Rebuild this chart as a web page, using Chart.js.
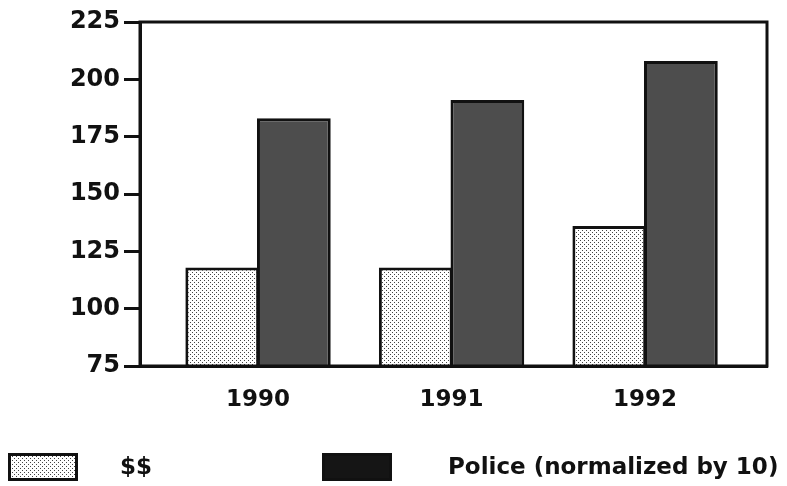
<!DOCTYPE html>
<html>
<head>
<meta charset="utf-8">
<script src="https://cdn.jsdelivr.net/npm/chart.js@4/dist/chart.umd.min.js"></script>
<style>
  html, body { margin: 0; padding: 0; background: #fff; }
  #wrap { width: 787px; height: 486px; position: relative; }
</style>
</head>
<body>
<div id="wrap"><canvas id="c" width="787" height="486"></canvas></div>
<script>
// Years on the horizontal axis
const years = [1990, 1991, 1992];
// Spending, in dollars
const spending = [118, 118, 136];
// Police count, divided by 10
const police = [183, 191, 208];
// Vertical axis ticks
const yTicks = [75, 100, 125, 150, 175, 200, 225];

const seriesNames = ['$$', 'Police (normalized by 10)'];
const FONT = '"DejaVu Sans", Verdana, sans-serif';
const INK = '#111111';

// Stippled fill used for the spending bars
function makeStipple() {
  const t = document.createElement('canvas');
  t.width = 4; t.height = 4;
  const g = t.getContext('2d');
  g.fillStyle = '#ffffff';
  g.fillRect(0, 0, 4, 4);
  g.fillStyle = '#444444';
  g.fillRect(0, 0, 1, 1);
  g.fillRect(2, 2, 1, 1);
  return g.createPattern(t, 'repeat');
}
const ctx = document.getElementById('c').getContext('2d');
const stipple = makeStipple();
const darkFill = '#4d4d4d';

// Box around the plotting area
const framePlugin = {
  id: 'frame',
  afterDatasetsDraw(chart) {
    const a = chart.chartArea, c = chart.ctx;
    c.save();
    c.strokeStyle = INK;
    c.lineWidth = 3;
    c.strokeRect(a.left, a.top, a.right - a.left, a.bottom - a.top);
    c.restore();
  }
};

// Legend row along the bottom edge
const legendPlugin = {
  id: 'bottomLegend',
  afterDraw(chart) {
    const c = chart.ctx;
    const items = [
      { box: 8, text: 120, fill: stipple },
      { box: 322, text: 448, fill: '#151515' }
    ];
    c.save();
    items.forEach((it, i) => {
      c.fillStyle = it.fill;
      c.fillRect(it.box, 453, 70, 28);
      c.strokeStyle = INK;
      c.lineWidth = 3;
      c.strokeRect(it.box + 1.5, 453 + 1.5, 67, 25);
      c.fillStyle = INK;
      c.font = 'bold 23px ' + FONT;
      c.textBaseline = 'middle';
      c.textAlign = 'left';
      c.fillText(seriesNames[i], it.text, 468);
    });
    c.restore();
  }
};

const barStyle = {
  borderColor: INK,
  borderWidth: 3,
  borderSkipped: 'bottom',
  categoryPercentage: 0.74,
  barPercentage: 1.03
};

new Chart(ctx, {
  type: 'bar',
  data: {
    datasets: [
      Object.assign({
        label: seriesNames[0],
        data: years.map((y, i) => ({ x: y, y: spending[i] })),
        backgroundColor: stipple
      }, barStyle),
      Object.assign({
        label: seriesNames[1],
        data: years.map((y, i) => ({ x: y, y: police[i] })),
        backgroundColor: darkFill
      }, barStyle)
    ]
  },
  options: {
    responsive: false,
    animation: false,
    layout: { padding: { top: 22, right: 20, bottom: 0, left: 0 } },
    plugins: { legend: { display: false }, tooltip: { enabled: false } },
    scales: {
      x: {
        type: 'linear',
        offset: false,
        min: 1989.39,
        max: 1992.63,
        afterBuildTicks(scale) { scale.ticks = years.map(v => ({ value: v })); },
        afterFit(scale) { scale.height = 120; },
        ticks: {
          callback: v => String(v),
          color: INK,
          font: { family: FONT, size: 23, weight: 'bold' },
          padding: 20,
          maxRotation: 0
        },
        grid: { display: false, drawTicks: false },
        border: { display: true, color: INK, width: 3 }
      },
      y: {
        min: 75,
        max: 225,
        afterBuildTicks(scale) { scale.ticks = yTicks.map(v => ({ value: v })); },
        afterFit(scale) { scale.width = 140; },
        ticks: {
          color: INK,
          font: { family: FONT, size: 24, weight: 'bold' },
          padding: 4
        },
        grid: { drawOnChartArea: false, drawTicks: true, tickLength: 16, color: INK, lineWidth: 3 },
        border: { display: true, color: INK, width: 3 }
      }
    }
  },
  plugins: [framePlugin, legendPlugin]
});
</script>
</body>
</html>
